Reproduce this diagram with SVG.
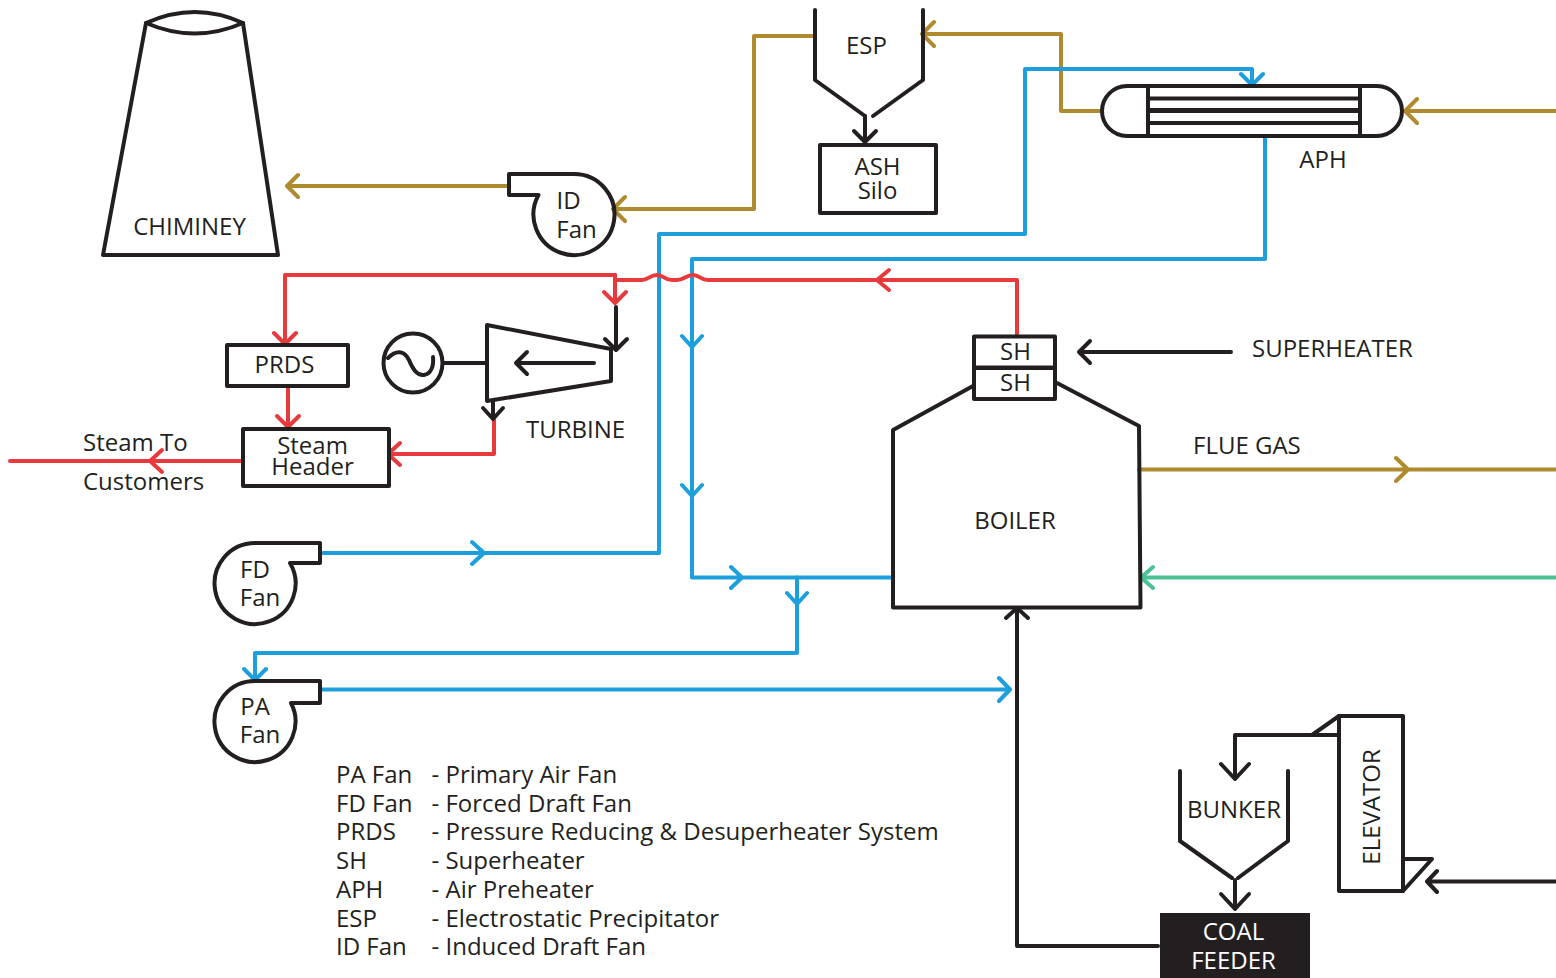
<svg xmlns="http://www.w3.org/2000/svg" width="1556" height="978" viewBox="0 0 1556 978">
<style>
text{font-family:"Open Sans","Noto Sans",sans-serif;font-size:24px;fill:#231f20}
.s{fill:none;stroke:#231f20;stroke-width:4;stroke-linejoin:round;stroke-linecap:round}
.w{fill:#fff;stroke:#231f20;stroke-width:4;stroke-linejoin:round}
.t{fill:none;stroke-width:4;stroke-linejoin:round;stroke-linecap:round}
.g{stroke:#b08a2e}.b{stroke:#1c9fdc}.r{stroke:#e8393d}.k{stroke:#231f20}.n{stroke:#4dc196}
.m{text-anchor:middle}
</style>
<rect width="1556" height="978" fill="#fff"/>
<g id="connectors">
<g class="t g">
<path d="M509 186H287M298 175L287 186L298 197"/>
<path d="M815 36H754V209H613M625 197L613 209L625 221"/>
<path d="M1102 111H1061V34H922M934 22L922 34L934 46"/>
<path d="M1556 111H1405M1417 99L1405 111L1417 123"/>
<path d="M1139 469.500H1556M1396 458L1408 469.500L1396 481"/>
</g>
<g class="t b">
<path d="M320 553H659V234H1025V69H1252V85M472 542L484 553L472 564M1241 74L1252 85L1263 74"/>
<path d="M1265 136V259H692V577.500H892M682 336L692 347L702 336M682 485L692 496L702 485M731 567L742 577.500L731 588"/>
<path d="M797 577.500V653H255V680M787 593L797 604L807 593M244 669L255 680L266 669"/>
<path d="M320 689.500H1010M999 678L1010 689.500L999 701"/>
</g>
<g class="t r">
<path d="M1017 336V280H708C700 280 700 275 693 275C686 275 684 280 677 280H672C664 280 664 275 657 275C650 275 648 280 642 280H615V275H285V344M274 333L285 344L296 333"/>
<path d="M615 275V303M604 292L615 303L626 292"/>
<path d="M889 270L877 280L889 290"/>
<path d="M288 386V427M277 416L288 427L299 416"/>
<path d="M494 420V454H388M400 443L388 454L400 465"/>
<path d="M242 461H10M162 450L150 461L162 472"/>
</g>
<g class="t n"><path d="M1556 577.500H1141M1153 567L1141 577.500L1153 588"/></g>
<g class="t k">
<path d="M616 307V350M605 339L616 350L627 339"/>
<path d="M493 402V419M483 408L493 419L503 408"/>
<path d="M1231 352H1079M1090 341L1079 352L1090 363"/>
<path d="M865 116V142M854 131L865 142L876 131"/>
<path d="M1158 946H1017V608M1006 618L1017 608L1028 618"/>
<path d="M1338 735H1235V779M1221 764L1235 779L1249 764"/>
<path d="M1235 880V909M1221 894L1235 909L1249 894"/>
<path d="M1556 881.500H1427M1437 871L1427 881.500L1437 892"/>
</g>
</g>
<g id="chimney">
<path class="s" d="M146 23Q195 1 243 23L278 255H103Z"/>
<path class="s" d="M146 23Q195 44 243 23"/>
<text x="189.500" y="235" class="m">CHIMINEY</text>
</g>
<g id="id-fan">
<path class="s" d="M574 174A40.500 40.500 0 1 1 538.500 195H509V174Z"/>
<text x="568.500" y="209" class="m">ID</text><text x="576.500" y="238" class="m">Fan</text>
</g>
<g id="esp">
<path class="s" d="M815 10V80L865 116M923 10V80L873 116"/>
<text x="866.500" y="54" class="m">ESP</text>
</g>
<g id="ash-silo">
<rect x="820" y="145" width="116" height="68" class="w"/>
<text x="877.500" y="174.500" class="m">ASH</text><text x="877.500" y="199" class="m">Silo</text>
</g>
<g id="aph">
<rect x="1102" y="86" width="300" height="50" rx="25" class="w"/>
<path class="s" d="M1148 86V136M1360 86V136M1148 98.500H1360M1148 123H1360"/>
<path d="M1148 110.500H1360" stroke="#231f20" stroke-width="5"/>
<text x="1323" y="168" class="m">APH</text>
</g>
<g id="prds">
<rect x="227" y="345" width="121" height="41" class="w"/>
<text x="284.500" y="373" class="m">PRDS</text>
</g>
<g id="steam-header">
<rect x="243" y="429" width="146" height="57" class="w"/>
<text x="312.500" y="454" class="m">Steam</text><text x="312.500" y="475" class="m">Header</text>
</g>
<g id="generator">
<circle cx="413" cy="363" r="29.500" class="w"/>
<path class="s" d="M388 358C396 350 404 350 409 360C413 370 418 376 424 375C431 374 434 366 433 357"/>
<path class="s" d="M443 363H487"/>
</g>
<g id="turbine">
<path class="s" d="M487 325L611 349V381L487 401Z"/>
<path class="s" d="M594 363H516M527 352L516 363L527 374"/>
<text x="575.500" y="438" class="m">TURBINE</text>
</g>
<g id="superheater">
<rect x="974" y="336.500" width="81" height="31" class="w"/>
<rect x="974" y="368" width="81" height="31" class="w"/>
<text x="1015.500" y="360" class="m">SH</text><text x="1015.500" y="391" class="m">SH</text>
</g>
<g id="boiler">
<path class="s" d="M973 386L893 430V607.500H1140.500L1139 426L1057 383"/>
<text x="1015" y="529" class="m">BOILER</text>
</g>
<g id="fd-fan">
<path class="s" d="M255 543A40.500 40.500 0 1 0 290 563H320V543Z"/>
<text x="255" y="578" class="m">FD</text><text x="260" y="606" class="m">Fan</text>
</g>
<g id="pa-fan">
<path class="s" d="M255 681A40.500 40.500 0 1 0 291 703H320V681Z"/>
<text x="255" y="715" class="m">PA</text><text x="260" y="743" class="m">Fan</text>
</g>
<g id="bunker">
<path class="s" d="M1180 771V841L1232 878M1288 771V841L1238 878"/>
<text x="1234" y="818" class="m">BUNKER</text>
</g>
<g id="elevator">
<rect x="1339" y="716" width="64" height="175" class="w"/>
<path class="s" d="M1339 716L1312 735H1339ZM1403 859H1432L1403 891Z"/>
<text transform="translate(1380 807) rotate(-90)" class="m">ELEVATOR</text>
</g>
<g id="coal-feeder">
<rect x="1160" y="913" width="150" height="65" fill="#231f20"/>
<text x="1233.500" y="940" class="m" style="fill:#fff">COAL</text><text x="1233.500" y="969" class="m" style="fill:#fff">FEEDER</text>
</g>
<g id="labels">
<text x="1252" y="357">SUPERHEATER</text>
<text x="1193" y="454">FLUE GAS</text>
<text x="83" y="451">Steam To</text>
<text x="83" y="490">Customers</text>
</g>
<g id="legend">
<text x="336" y="783">PA Fan</text><text x="431.500" y="783">- Primary Air Fan</text>
<text x="336" y="812">FD Fan</text><text x="431.500" y="812">- Forced Draft Fan</text>
<text x="336" y="840">PRDS</text><text x="431.500" y="840">- Pressure Reducing &amp; Desuperheater System</text>
<text x="336" y="869">SH</text><text x="431.500" y="869">- Superheater</text>
<text x="336" y="898">APH</text><text x="431.500" y="898">- Air Preheater</text>
<text x="336" y="927">ESP</text><text x="431.500" y="927">- Electrostatic Precipitator</text>
<text x="336" y="955">ID Fan</text><text x="431.500" y="955">- Induced Draft Fan</text>
</g>
</svg>
